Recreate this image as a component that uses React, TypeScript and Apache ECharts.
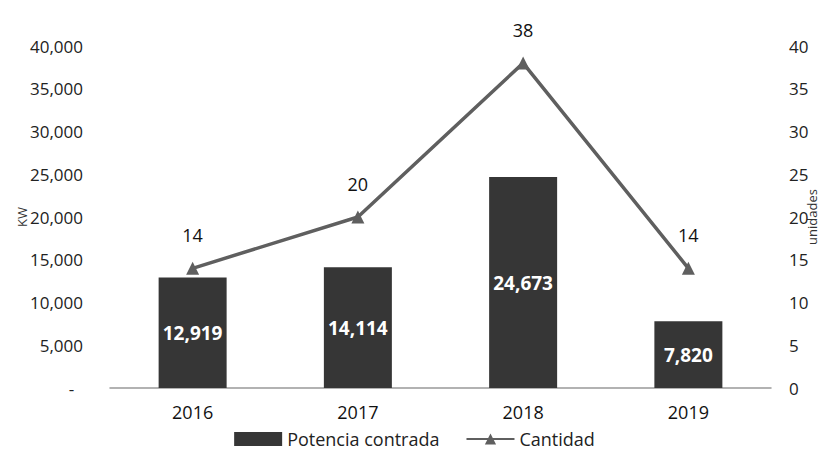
import React, { useEffect, useRef } from "react";
import * as echarts from "echarts";

const categories = ["2016", "2017", "2018", "2019"];
const potencia = [12919, 14114, 24673, 7820];
const cantidad = [14, 20, 38, 14];

const FONT = "'Open Sans', 'Noto Sans', sans-serif";

export default function App() {
  const ref = useRef<HTMLDivElement>(null);
  useEffect(() => {
    if (!ref.current) return;
    const chart = echarts.init(ref.current, undefined, { renderer: "svg" });
    chart.setOption({
      animation: false,
      backgroundColor: "#ffffff",
      textStyle: { fontFamily: FONT },
      grid: {
        left: 102,
        right: 50,
        top: 38,
        bottom: 78,
        containLabel: false,
        outerBoundsMode: "none",
      },
      legend: {
        top: 417,
        left: "center",
        itemWidth: 48,
        itemHeight: 14,
        itemGap: 26,
        textStyle: { fontSize: 18, color: "#222", fontFamily: FONT },
        data: [
          { name: "Potencia contrada", icon: "rect" },
          { name: "Cantidad" },
        ],
      },
      xAxis: {
        type: "category",
        data: categories,
        axisLine: { lineStyle: { color: "#999", width: 1.5 } },
        axisTick: { show: false },
        axisLabel: { fontSize: 18, color: "#111", margin: 15, fontFamily: FONT },
      },
      yAxis: [
        {
          type: "value",
          min: 0,
          max: 40000,
          interval: 5000,
          name: "KW",
          nameLocation: "middle",
          nameRotate: 90,
          nameGap: 82,
          nameMoveOverlap: false,
          nameTextStyle: { fontSize: 13, color: "#333", fontFamily: FONT },
          splitLine: { show: false },
          axisLine: { show: false },
          axisTick: { show: false },
          axisLabel: {
            fontSize: 17,
            color: "#222",
            margin: 27,
            fontFamily: FONT,
            formatter: (v: number) => (v === 0 ? "-  " : v.toLocaleString("en-US")),
          },
        },
        {
          type: "value",
          min: 0,
          max: 40,
          interval: 5,
          name: "unidades",
          nameLocation: "middle",
          nameRotate: 90,
          nameGap: 34,
          nameMoveOverlap: false,
          nameTextStyle: { fontSize: 13, color: "#333", fontFamily: FONT },
          splitLine: { show: false },
          axisLine: { show: false },
          axisTick: { show: false },
          axisLabel: { fontSize: 17, color: "#222", margin: 18, fontFamily: FONT },
        },
      ],
      series: [
        {
          name: "Potencia contrada",
          type: "bar",
          data: potencia,
          barWidth: 68,
          itemStyle: { color: "#363636" },
          label: {
            show: true,
            position: "inside",
            color: "#fff",
            fontWeight: "bold",
            fontSize: 19,
            fontFamily: FONT,
            formatter: (p: any) => Number(p.value).toLocaleString("en-US"),
          },
        },
        {
          name: "Cantidad",
          type: "line",
          yAxisIndex: 1,
          data: cantidad,
          symbol: "triangle",
          symbolSize: 13,
          lineStyle: { color: "#5f5f5f", width: 3.5 },
          itemStyle: { color: "#5f5f5f" },
          label: {
            show: true,
            position: "top",
            distance: 18,
            fontSize: 18,
            color: "#111",
            fontFamily: FONT,
          },
        },
      ],
    });
    return () => chart.dispose();
  }, []);
  return <div ref={ref} style={{ width: 813, height: 458 }} />;
}
